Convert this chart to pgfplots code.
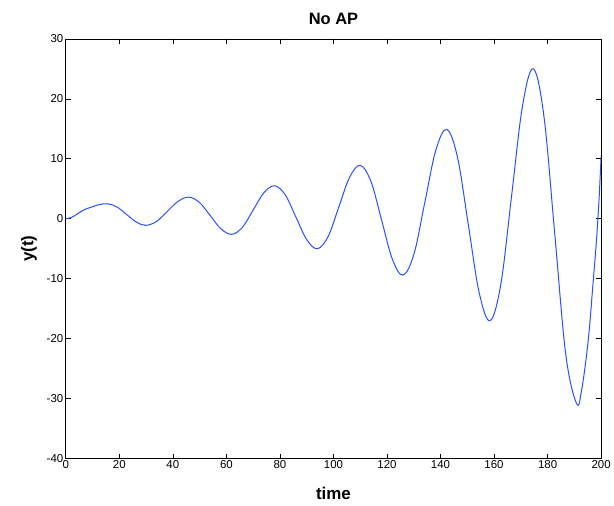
\documentclass[border=0pt]{standalone}
\usepackage{pgfplots}
\pgfplotsset{compat=1.18}
\usepackage{fontspec}
\setmainfont{Liberation Sans}
\definecolor{mblue}{RGB}{40,80,255}
\begin{document}
\begin{tikzpicture}
\begin{axis}[
  scale only axis,
  width=537pt, height=421pt,
  xmin=0, xmax=200, ymin=-40, ymax=30,
  xtick={0,20,...,200}, ytick={-40,-30,...,30},
  tick align=inside, major tick length=5pt,
  tick style={black, line width=0.6pt},
  axis line style={line width=0.6pt},
  /pgf/number format/assume math mode=true,
  ticklabel style={font=\fontsize{11.5}{13}\selectfont},
  xticklabel style={yshift=2pt},
  yticklabel style={xshift=1pt},
  title={\textbf{No AP}},
  title style={font=\fontsize{16.5}{19}\selectfont, yshift=5pt},
  xlabel={\textbf{time}},
  ylabel={\textbf{y(t)}},
  label style={font=\fontsize{17}{20}\selectfont},
  xlabel style={yshift=-12pt},
  ylabel style={yshift=3pt},
]
\addplot[mblue, line width=1pt, smooth, tension=0.6] coordinates {
(0,0) (2,0.2) (4,0.7) (6,1.3) (8,1.7) (10,2.0) (12,2.3) (15.5,2.5)
(19.1,1.97) (22.75,0.7) (26.4,-0.57) (30,-1.1)
(34,-0.41) (38,1.25) (42,2.91) (46,3.6)
(50,2.69) (54,0.5) (58,-1.69) (62,-2.6)
(66,-1.42) (70,1.45) (74,4.32) (78,5.5)
(82,3.97) (86,0.25) (90,-3.47) (94,-5)
(98,-2.97) (102,1.95) (106,6.87) (110,8.9)
(114,6.23) (118,-0.25) (122,-6.73) (126,-9.4)
(130.1,-5.85) (134.15,2.75) (138.2,11.35) (142.3,14.9)
(146.35,10.24) (150.4,-1.05) (154.45,-12.34) (158.5,-17)
(162.55,-10.87) (166.6,4) (170.65,18.87) (174.7,25)
(178.7,16.85) (182.75,-2.9) (186.8,-22.65) (190.8,-30.8)
(192.7,-28.6) (195.2,-20.2) (197.1,-10.1) (198.2,-4) (199.2,3) (200,10.4)
};
\end{axis}
\path ([xshift=-66pt,yshift=-47pt]current axis.south west) rectangle ([xshift=11pt,yshift=39pt]current axis.north east);
\end{tikzpicture}
\end{document}
